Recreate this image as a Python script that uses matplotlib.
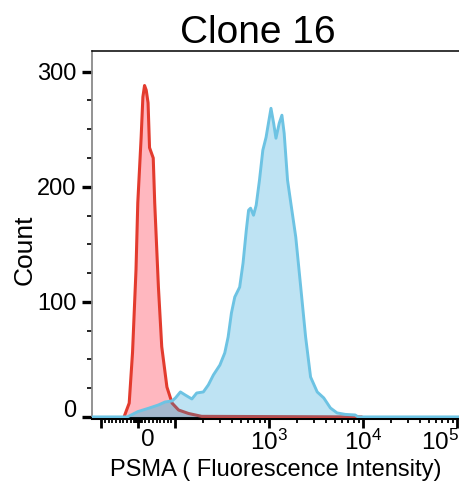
import matplotlib
matplotlib.use("Agg")
import matplotlib.pyplot as plt
from matplotlib.ticker import FixedLocator, FixedFormatter
from matplotlib.transforms import ScaledTranslation

plt.rcParams["font.family"] = ["Liberation Sans", "DejaVu Sans"]
plt.rcParams["mathtext.fontset"] = "custom"
plt.rcParams["mathtext.rm"] = "Liberation Sans"
plt.rcParams["mathtext.it"] = "Liberation Sans:italic"
plt.rcParams["mathtext.bf"] = "Liberation Sans:bold"

# isotype control (red) - fluorescence vs count
red_x = [-38, -24, -15, -5.6, -0.8, 8.3, 13, 17.5, 22, 27, 31, 41, 45, 55, 64,
         78, 92, 109, 139, 192, 9500]
red_y = [0, 12, 56, 128, 186, 243, 278, 288, 284, 273, 234, 225, 186, 113, 61,
         26, 12, 6, 3, 0.5, 0]

# PSMA stained clone 16 (blue)
blue_x = [-125, -29, -0.8, 31, 55, 73, 92, 101, 114, 128, 151, 170, 200, 226,
          256, 300, 338, 367, 398, 432, 487, 529, 573, 606, 636, 684, 730, 791,
          859, 930, 969, 1049, 1120, 1185, 1283, 1371, 1449, 1574, 1706, 1925,
          2174, 2451, 2767, 3256, 3822, 4497, 5287, 6471, 8245, 8859, 105000]
blue_y = [0, 0, 4.6, 7.8, 10.4, 13, 13.9, 16.5, 21.7, 19.1, 15.6, 20.8, 21.7,
          27.8, 36.5, 45.1, 55.6, 69.4, 90.3, 104.2, 112.8, 133.7, 162.3, 179.7,
          181.4, 175.3, 184, 205.7, 231.8, 243, 251.7, 268.2, 255.2, 242.2,
          255.2, 262.2, 246.5, 205.7, 185.8, 156.3, 112.8, 69.4, 34.7, 21.7,
          16.5, 7.8, 3.5, 2.2, 1.7, 0, 0]

x_major = [-100, 0, 100, 1e3, 1e4, 1e5]
x_major_labels = ["", "0", "", r"$10^{3}$", r"$10^{4}$", r"$10^{5}$"]
x_minor = ([v for v in range(-90, 100, 10) if v != 0]
           + [-7.5, -5, -2.5, 2.5, 5, 7.5]
           + [m * 10 ** e for e in (2, 3, 4) for m in range(2, 10)])
y_major = [0, 100, 200, 300]
y_major_labels = ["0", "100", "200", "300"]
y_minor = [25, 50, 75, 125, 150, 175, 225, 250, 275]

fig = plt.figure(figsize=(4.59, 4.83), dpi=100, facecolor="white")
ax = fig.add_axes([92 / 459, 1 - 417.5 / 483, 367 / 459, 366.5 / 483])
ax.set_xscale("symlog", linthresh=100, linscale=0.354)
ax.set_xlim(-125, 1.05e5)
ax.set_ylim(-0.5, 318)

red_fill = ax.fill_between(red_x, red_y, color="#ffb7bf", lw=0, zorder=1)
# overlap region of both histograms gets its own greyish tone
ov = ax.fill_between(blue_x, blue_y, color="#dcc4cb", lw=0, zorder=2)
ov.set_clip_path(red_fill.get_paths()[0], ax.transData)
ax.plot(red_x, red_y, color="#e33b2e", lw=2.2, zorder=3,
        solid_joinstyle="round")
ax.fill_between(blue_x, blue_y, color="#0f9bd3", alpha=0.27, lw=0, zorder=4)
ax.plot(blue_x, blue_y, color="#6dc3e3", lw=2.1, zorder=5,
        solid_joinstyle="round")

ax.xaxis.set_major_locator(FixedLocator(x_major))
ax.xaxis.set_major_formatter(FixedFormatter(x_major_labels))
ax.xaxis.set_minor_locator(FixedLocator(x_minor))
ax.yaxis.set_major_locator(FixedLocator(y_major))
ax.yaxis.set_major_formatter(FixedFormatter(y_major_labels))
ax.yaxis.set_minor_locator(FixedLocator(y_minor))

ax.tick_params(axis="x", which="major", length=7, width=2.0, pad=1.5,
               labelsize=17.5, color="black")
ax.tick_params(axis="x", which="minor", length=3.5, width=1.3, color="black")
ax.tick_params(axis="y", which="major", length=7.5, width=2.4, pad=3.5,
               labelsize=17, color="black")
ax.tick_params(axis="y", which="minor", length=3.5, width=1.2, color="black")

ax.spines["right"].set_visible(False)
ax.spines["left"].set_color("#8a8a8a")
ax.spines["left"].set_linewidth(1.3)
ax.spines["top"].set_linewidth(1.1)
ax.spines["bottom"].set_linewidth(2.2)

# nudge a few labels like the original (corner "0"s, 10^5 kept inside)
def _nudge(label, dx_px, dy_px):
    label.set_transform(label.get_transform()
                        + ScaledTranslation(dx_px / 100, dy_px / 100,
                                            fig.dpi_scale_trans))

xticks = ax.xaxis.get_major_ticks()
_nudge(xticks[1].label1, 10, 0)
_nudge(xticks[5].label1, -17, 0)
_nudge(ax.yaxis.get_major_ticks()[0].label1, 0, 8)

fig.text(257.5 / 459, 1 - 43 / 483, "Clone 16", ha="center", va="baseline",
         fontsize=28)
fig.text(32 / 459, 1 - 250 / 483, "Count", rotation=90, rotation_mode="anchor",
         ha="center", va="baseline", fontsize=19)
fig.text(275.5 / 459, 1 - 476 / 483, "PSMA ( Fluorescence Intensity)",
         ha="center", va="baseline", fontsize=17)

fig.savefig("out.png", dpi=100, facecolor="white")
